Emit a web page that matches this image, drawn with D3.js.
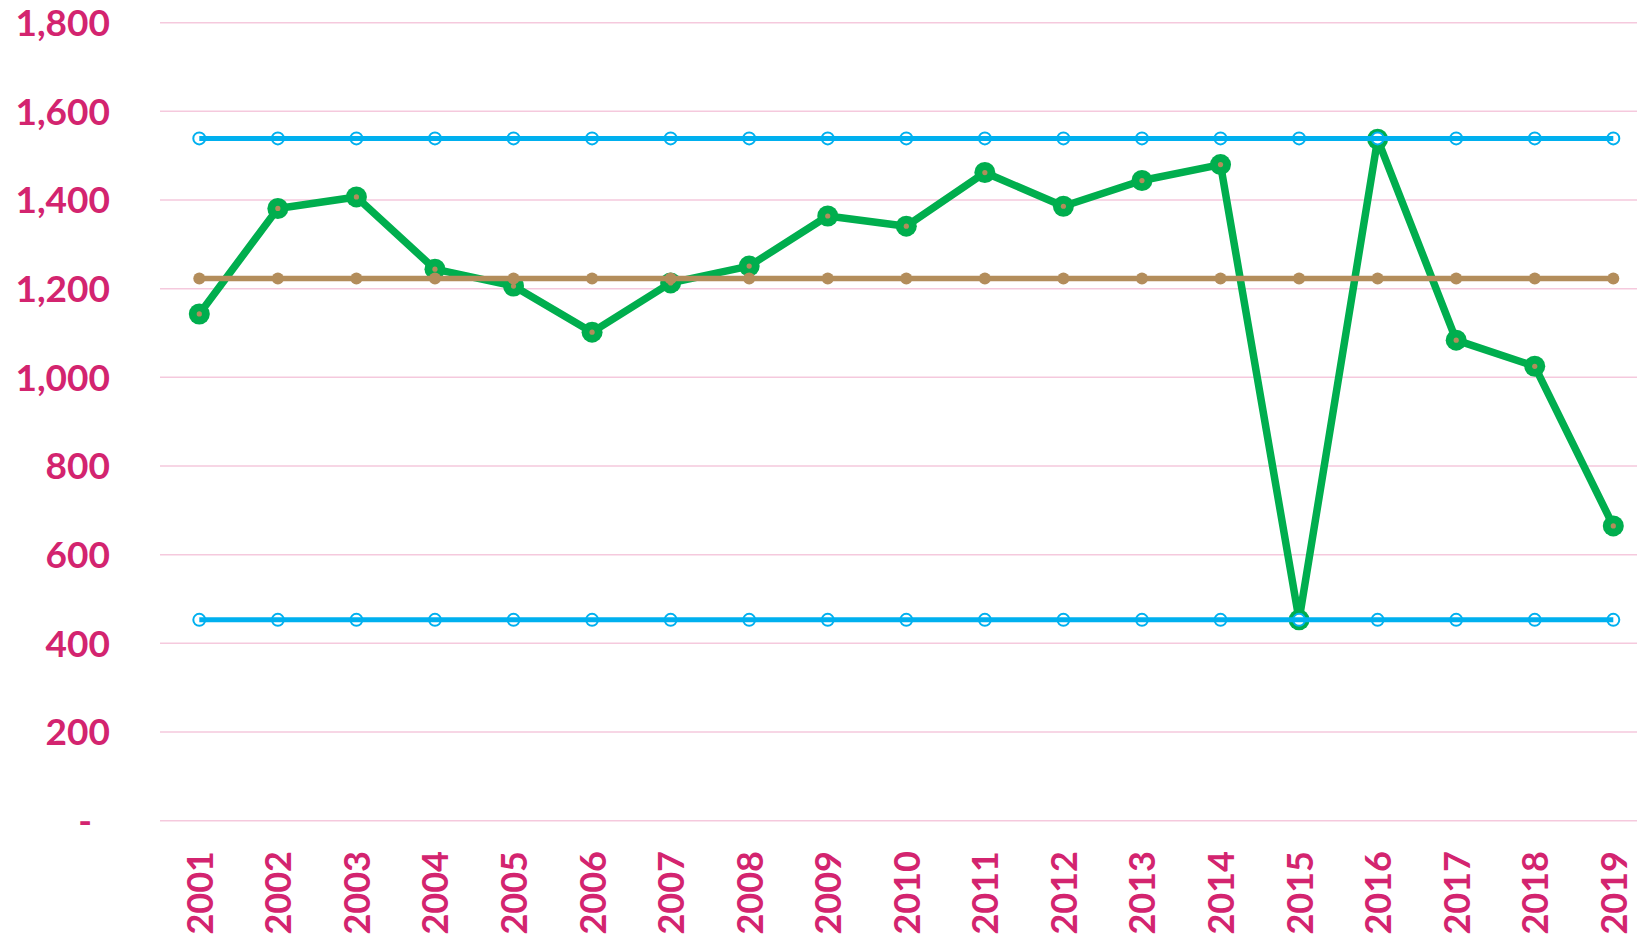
<!DOCTYPE html>
<html>
<head>
<meta charset="utf-8">
<script src="https://cdn.jsdelivr.net/npm/d3@7"></script>
<style>
  html, body { margin: 0; padding: 0; background: #ffffff; }
  svg { display: block; }
</style>
</head>
<body>
<svg id="chart" width="1637" height="939"></svg>
<script>
const years = ["2001","2002","2003","2004","2005","2006","2007","2008","2009","2010",
               "2011","2012","2013","2014","2015","2016","2017","2018","2019"];
const valores = [1143, 1381, 1407, 1244, 1206, 1102, 1213, 1251, 1364, 1341,
                 1462, 1386, 1444, 1480, 453, 1537, 1084, 1025, 665];
const promedio = [1223, 1223, 1223, 1223, 1223, 1223, 1223, 1223, 1223, 1223,
                  1223, 1223, 1223, 1223, 1223, 1223, 1223, 1223, 1223];
const limiteSuperior = [1539, 1539, 1539, 1539, 1539, 1539, 1539, 1539, 1539, 1539,
                        1539, 1539, 1539, 1539, 1539, 1539, 1539, 1539, 1539];
const limiteInferior = [453, 453, 453, 453, 453, 453, 453, 453, 453, 453,
                        453, 453, 453, 453, 453, 453, 453, 453, 453];
const yTicks = [0, 200, 400, 600, 800, 1000, 1200, 1400, 1600, 1800];

const svg = d3.select("#chart");
const W = 1637, H = 939;
const plotLeft = 160;

const x = d3.scalePoint().domain(years).range([199.3, 1613.3]);
const y = d3.scaleLinear().domain([0, 1800]).range([820.7, 22.7]);

const textColor = "#D3246F";
const gridColor = "#F5C9DD";
const green = "#00AE4E";
const brown = "#B38D5B";
const blue = "#00B0EF";
const font = "Lato, 'Open Sans', sans-serif";

// gridlines
svg.append("g").selectAll("line").data(yTicks).join("line")
  .attr("x1", plotLeft).attr("x2", W)
  .attr("y1", d => y(d)).attr("y2", d => y(d))
  .attr("stroke", gridColor).attr("stroke-width", 1.5);

// y axis labels
const yAxis = d3.axisLeft(y).tickValues(yTicks)
  .tickFormat(d => d === 0 ? "-" : d3.format(",")(d))
  .tickSize(0).tickPadding(0);
const gy = svg.append("g").attr("transform", "translate(110,0)").call(yAxis);
gy.select(".domain").remove();
gy.selectAll("text")
  .attr("fill", textColor)
  .attr("font-family", font)
  .attr("font-weight", "bold")
  .attr("font-size", "37px")
  .attr("dy", "0.35em")
  .attr("dx", d => d === 0 ? -18 : 0);

// x axis labels (rotated)
const xAxis = d3.axisBottom(x).tickSize(0).tickPadding(0);
const gx = svg.append("g").attr("transform", "translate(0,851)").call(xAxis);
gx.select(".domain").remove();
gx.selectAll("text")
  .attr("fill", textColor)
  .attr("font-family", font)
  .attr("font-weight", "bold")
  .attr("font-size", "36px")
  .attr("transform", "rotate(-90)")
  .attr("text-anchor", "end")
  .attr("x", 0)
  .attr("y", 0)
  .attr("dy", "0.36em");

const line = d3.line().x((d, i) => x(years[i])).y(d => y(d));

// green main series
svg.append("path").datum(valores)
  .attr("d", line).attr("fill", "none")
  .attr("stroke", green).attr("stroke-width", 7.5)
  .attr("stroke-linejoin", "round");
const gm = svg.append("g");
gm.selectAll("circle.o").data(valores).join("circle")
  .attr("cx", (d, i) => x(years[i])).attr("cy", d => y(d))
  .attr("r", 10.5).attr("fill", green);
gm.selectAll("circle.i").data(valores).join("circle")
  .attr("cx", (d, i) => x(years[i])).attr("cy", d => y(d))
  .attr("r", 2.6).attr("fill", brown);

// brown mean
svg.append("path").datum(promedio)
  .attr("d", line).attr("fill", "none")
  .attr("stroke", brown).attr("stroke-width", 5.5);
svg.append("g").selectAll("circle").data(promedio).join("circle")
  .attr("cx", (d, i) => x(years[i])).attr("cy", d => y(d))
  .attr("r", 6).attr("fill", brown);

// blue limits
[limiteSuperior, limiteInferior].forEach(serie => {
  svg.append("g").selectAll("circle").data(serie).join("circle")
    .attr("cx", (d, i) => x(years[i])).attr("cy", d => y(d))
    .attr("r", 6).attr("fill", "#ffffff")
    .attr("stroke", blue).attr("stroke-width", 2);
  svg.append("path").datum(serie)
    .attr("d", line).attr("fill", "none")
    .attr("stroke", blue).attr("stroke-width", 5);
});
</script>
</body>
</html>
